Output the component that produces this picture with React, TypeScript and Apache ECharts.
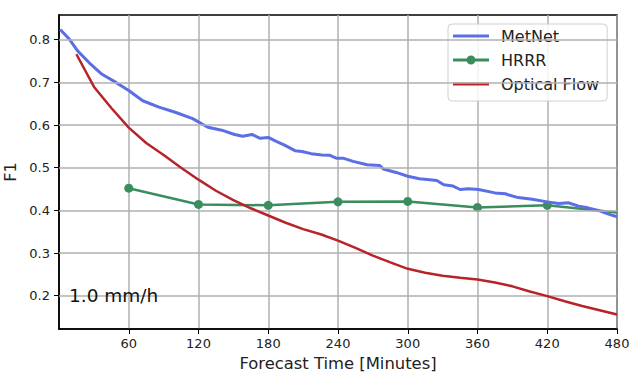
import React, { useEffect, useRef } from "react";
import * as echarts from "echarts";

const xTicks = [60, 120, 180, 240, 300, 360, 420, 480];
const yTicks = [0.2, 0.3, 0.4, 0.5, 0.6, 0.7, 0.8];

const metnetX = [1, 9, 16, 26, 37, 49, 60, 72, 86, 100, 115, 128, 140, 151, 158, 166, 173, 180, 186, 194, 203, 209, 217, 226, 233, 239, 245, 253, 265, 276, 279, 290, 300, 310, 319, 325, 331, 339, 345, 352, 361, 375, 384, 387, 395, 407, 420, 430, 438, 447, 455, 464, 472, 478, 480];
const metnetY = [0.824, 0.801, 0.774, 0.746, 0.719, 0.700, 0.681, 0.657, 0.642, 0.630, 0.615, 0.595, 0.588, 0.578, 0.574, 0.578, 0.569, 0.571, 0.563, 0.553, 0.540, 0.538, 0.533, 0.530, 0.529, 0.522, 0.522, 0.515, 0.507, 0.505, 0.497, 0.489, 0.480, 0.474, 0.472, 0.470, 0.460, 0.457, 0.449, 0.451, 0.449, 0.441, 0.439, 0.436, 0.430, 0.426, 0.420, 0.416, 0.418, 0.410, 0.406, 0.400, 0.392, 0.387, 0.385];

const hrrrX = [60, 120, 180, 240, 300, 360, 420, 480];
const hrrrY = [0.452, 0.414, 0.412, 0.420, 0.421, 0.407, 0.412, 0.395];

const flowX = [15, 30, 45, 60, 75, 90, 105, 120, 135, 150, 165, 180, 195, 210, 225, 240, 255, 270, 285, 300, 315, 330, 345, 360, 375, 390, 405, 420, 435, 450, 465, 480];
const flowY = [0.766, 0.690, 0.640, 0.594, 0.558, 0.530, 0.500, 0.472, 0.446, 0.424, 0.405, 0.388, 0.371, 0.356, 0.344, 0.329, 0.312, 0.294, 0.278, 0.263, 0.254, 0.247, 0.242, 0.238, 0.231, 0.222, 0.210, 0.199, 0.187, 0.176, 0.166, 0.156];

const FONT = "DejaVu Sans";
const BLUE = "#5b6ee6";
const GREEN = "#3b8d5e";
const RED = "#b8232a";
const LINE_ICON = "path://M0,0 H36 V3 H0 Z";
const MARKER_ICON =
  "path://M0,6 H36 V9 H0 Z M13.5,7.5 A4.5,4.5 0 1,1 22.5,7.5 A4.5,4.5 0 1,1 13.5,7.5 Z";

export default function App() {
  const ref = useRef<HTMLDivElement>(null);
  useEffect(() => {
    if (!ref.current) return;
    const chart = echarts.init(ref.current, undefined, { renderer: "svg" });
    const zip = (xs: number[], ys: number[]) => xs.map((x, i) => [x, ys[i]]);
    const hrrrData = hrrrX.map((x, i) =>
      x === 480 ? { value: [x, hrrrY[i]], symbol: "none" } : { value: [x, hrrrY[i]] }
    );
    chart.setOption({
      animation: false,
      backgroundColor: "#fff",
      textStyle: { fontFamily: FONT },
      grid: {
        left: 59,
        top: 15,
        right: 18,
        bottom: 51,
        containLabel: false,
        outerBoundsMode: "none",
        show: true,
        borderColor: "#000",
        borderWidth: 1.5,
        backgroundColor: "transparent",
      },
      legend: {
        data: [
          { name: "MetNet", icon: LINE_ICON },
          { name: "HRRR", icon: MARKER_ICON },
          { name: "Optical Flow", icon: LINE_ICON },
        ],
        orient: "vertical",
        left: 448,
        top: 24,
        itemWidth: 36,
        itemHeight: 14,
        itemGap: 8,
        padding: [4, 8, 9, 5],
        backgroundColor: "rgba(255,255,255,0.85)",
        borderColor: "#d0d0d0",
        borderWidth: 1,
        borderRadius: 4,
        textStyle: { fontFamily: FONT, fontSize: 16, color: "#222", padding: [0, 0, 0, 7] },
      },
      xAxis: {
        type: "value",
        min: 0,
        max: 480,
        interval: 60,
        name: "Forecast Time [Minutes]",
        nameLocation: "middle",
        nameGap: 26,
        nameTextStyle: { fontFamily: FONT, fontSize: 16.4, color: "#222" },
        axisLine: { show: true, lineStyle: { color: "#000", width: 1.5 } },
        axisTick: { show: true, length: 5, lineStyle: { color: "#000", width: 1 }, customValues: xTicks },
        axisLabel: { fontFamily: FONT, fontSize: 13, color: "#222", margin: 8, customValues: xTicks },
        splitLine: { show: true, lineStyle: { color: "#b0b0b0", width: 1.5 } },
      },
      yAxis: {
        type: "value",
        min: 0.122,
        max: 0.858,
        name: "F1",
        nameLocation: "middle",
        nameGap: 38,
        nameTextStyle: { fontFamily: FONT, fontSize: 16, color: "#222" },
        axisLine: { show: true, lineStyle: { color: "#000", width: 1.5 } },
        axisTick: { show: true, length: 5, lineStyle: { color: "#000", width: 1 }, customValues: yTicks },
        axisLabel: {
          fontFamily: FONT,
          fontSize: 13,
          color: "#222",
          margin: 9,
          customValues: yTicks,
          formatter: (v: number) => v.toFixed(1),
        },
        splitLine: { show: false },
      },
      graphic: [
        {
          type: "text",
          left: 69,
          top: 286,
          style: { text: "1.0 mm/h", fontFamily: FONT, fontSize: 18.5, fill: "#111" },
          z: 10,
        },
      ],
      series: [
        {
          name: "grid",
          type: "line",
          data: [],
          z: 1,
          silent: true,
          markLine: {
            silent: true,
            symbol: "none",
            label: { show: false },
            lineStyle: { color: "#b0b0b0", width: 1.5, type: "solid" },
            data: yTicks.map((v) => ({ yAxis: v })),
          },
        },
        {
          name: "HRRR",
          type: "line",
          data: hrrrData,
          symbol: "circle",
          symbolSize: 9,
          color: GREEN,
          itemStyle: { color: GREEN },
          lineStyle: { color: GREEN, width: 2.5 },
          z: 3,
        },
        {
          name: "MetNet",
          type: "line",
          data: zip(metnetX, metnetY),
          symbol: "none",
          color: BLUE,
          lineStyle: { color: BLUE, width: 3 },
          z: 4,
        },
        {
          name: "Optical Flow",
          type: "line",
          data: zip(flowX, flowY),
          symbol: "none",
          color: RED,
          lineStyle: { color: RED, width: 2.5 },
          z: 5,
        },
      ],
    });
    return () => chart.dispose();
  }, []);
  return <div ref={ref} style={{ width: 635, height: 380, position: "absolute", left: 0, top: 0 }} />;
}
